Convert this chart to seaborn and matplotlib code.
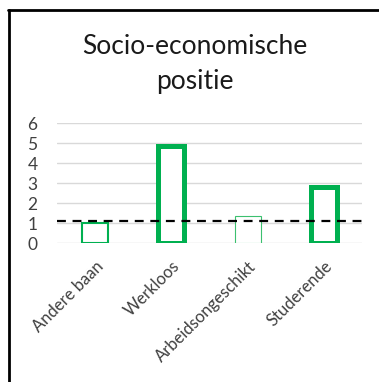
import matplotlib
matplotlib.use('Agg')
import matplotlib.pyplot as plt
import seaborn as sns
from matplotlib.lines import Line2D

categories = ['Andere baan', 'Werkloos', 'Arbeidsongeschikt', 'Studerende']
values = [1.0, 4.85, 1.37, 2.8]
edge_widths = [1.5, 3.6, 0.8, 3.6]
reference = 1.1
title = 'Socio-economische\npositie'

sns.set_style('white')
plt.rcParams['font.family'] = ['Lato', 'DejaVu Sans']

green = '#00B050'

fig = plt.figure(figsize=(3.79, 3.82), dpi=100)
ax = fig.add_axes([57 / 379, 1 - 243 / 382, 305 / 379, 120 / 382])

sns.barplot(x=categories, y=values, color='white', edgecolor=green,
            width=0.34, ax=ax, zorder=3)
for patch, lw in zip(ax.patches, edge_widths):
    patch.set_linewidth(lw)
    patch.set_edgecolor(green)
ax.patches[2].set_edgecolor('#3cc06f')

ax.axhline(reference, color='black', linestyle=(0, (4, 3)), linewidth=1.6, zorder=4)

ax.set_ylim(0, 6)
ax.set_xlim(-0.5, 3.5)
ax.set_yticks(range(0, 7))
ax.yaxis.grid(True, color='#d9d9d9', linewidth=1.0)
ax.set_axisbelow(True)
sns.despine(ax=ax, left=True, bottom=True)
ax.tick_params(axis='both', length=0, labelsize=12.5, colors='#404040')
ax.tick_params(axis='y', pad=14)
ax.set_xticks(range(len(categories)))
ax.set_xticklabels(categories, rotation=45, ha='right', rotation_mode='anchor',
                   fontsize=12, color='#404040')
ax.tick_params(axis='x', pad=11)
ax.set_xlabel('')
ax.set_ylabel('')

fig.text(0.515, 1 - 64 / 382, title, ha='center', va='center',
         fontsize=19, color='#1a1a1a', linespacing=1.45)

fig.add_artist(Line2D([8 / 379, 1], [1 - 9.5 / 382, 1 - 9.5 / 382],
                      transform=fig.transFigure, color='black', linewidth=2))
fig.add_artist(Line2D([8.5 / 379, 8.5 / 379], [0, 1 - 9.5 / 382],
                      transform=fig.transFigure, color='black', linewidth=2))

fig.savefig('out.png', dpi=100, facecolor='white')
